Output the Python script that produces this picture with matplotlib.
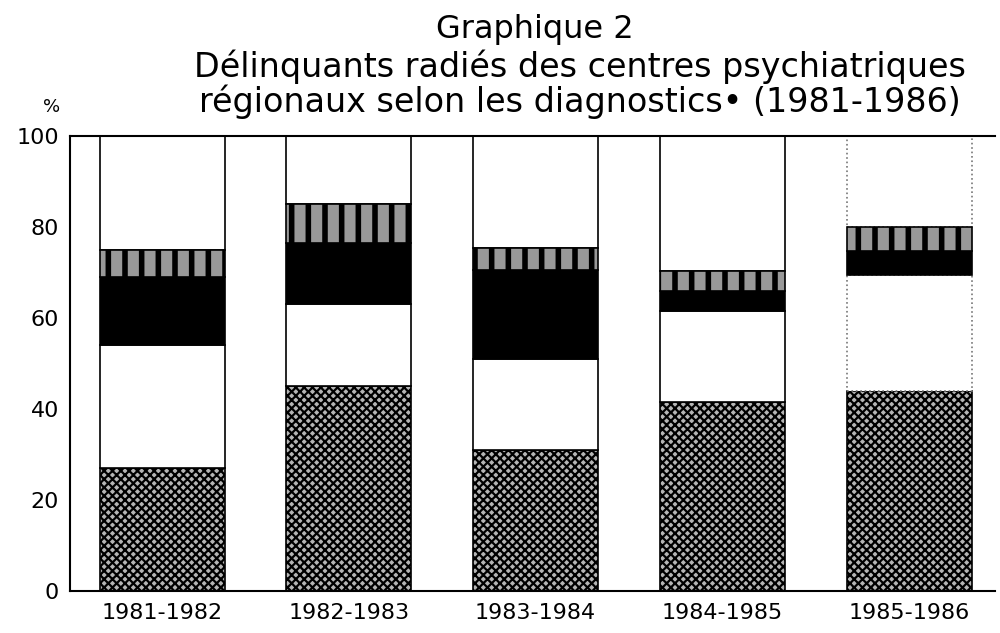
import matplotlib
matplotlib.use("Agg")
import matplotlib.pyplot as plt
import numpy as np

periods = ["1981-1982", "1982-1983", "1983-1984", "1984-1985", "1985-1986"]
seg_hatched = [27, 45, 31, 41.5, 44]
seg_white = [27, 18, 20, 20, 25.5]
seg_black = [15, 13.5, 19.5, 4.5, 5.2]
seg_striped = [6, 8.5, 5, 4.3, 5.3]
y_ticks = [0, 20, 40, 60, 80, 100]

plt.rcParams['font.family'] = ['DejaVu Sans']

fig = plt.figure(figsize=(10, 6.33), dpi=100)
ax = fig.add_axes([0.07, 0.0664, 0.925, 0.7186])

x = np.arange(len(periods))
w = 0.67
b1 = np.array(seg_hatched, dtype=float)
b2 = b1 + np.array(seg_white)
b3 = b2 + np.array(seg_black)
b4 = b3 + np.array(seg_striped)
rest = 100 - b4

for i in range(len(periods)):
    last = (i == len(periods) - 1)
    ec_white = '#777777' if last else 'black'
    ls_white = ':' if last else '-'
    with plt.rc_context({'hatch.linewidth': 1.6}):
        ax.bar(x[i], seg_hatched[i], w, bottom=0, facecolor='#b5b5b5',
               edgecolor='black', hatch='xxxx', linewidth=1.2, zorder=2)
    ax.bar(x[i], seg_white[i], w, bottom=b1[i], facecolor='white',
           edgecolor=ec_white, linestyle=ls_white, linewidth=1.2, zorder=2)
    ax.bar(x[i], seg_black[i], w, bottom=b2[i], facecolor='black',
           edgecolor='black', linewidth=1.2, zorder=3)
    with plt.rc_context({'hatch.linewidth': 4.0}):
        ax.bar(x[i], seg_striped[i], w, bottom=b3[i], facecolor='#999999',
               edgecolor='black', hatch='|', linewidth=1.2, zorder=3)
    ax.bar(x[i], rest[i], w, bottom=b4[i], facecolor='white',
           edgecolor=ec_white, linestyle=ls_white, linewidth=1.2, zorder=2)

ax.set_xlim(-0.493, 4.46)
ax.set_ylim(0, 100)
ax.set_yticks(y_ticks)
ax.set_yticklabels([str(v) for v in y_ticks], fontsize=16)
ax.set_xticks(x)
ax.set_xticklabels(periods, fontsize=16)
ax.tick_params(length=0)
ax.tick_params(axis='y', pad=8)
ax.tick_params(axis='x', pad=9)
for s in ['left', 'top', 'bottom']:
    ax.spines[s].set_linewidth(1.5)
ax.spines['right'].set_visible(False)

fig.text(0.535, 0.940, "Graphique 2", ha='center', va='baseline', fontsize=23)
fig.text(0.580, 0.878, "Délinquants radiés des centres psychiatriques",
         ha='center', va='baseline', fontsize=24)
fig.text(0.580, 0.823, "régionaux selon les diagnostics• (1981-1986)",
         ha='center', va='baseline', fontsize=24)
fig.text(0.052, 0.823, "%", ha='center', va='baseline', fontsize=13)

fig.savefig("out.png", dpi=100)
